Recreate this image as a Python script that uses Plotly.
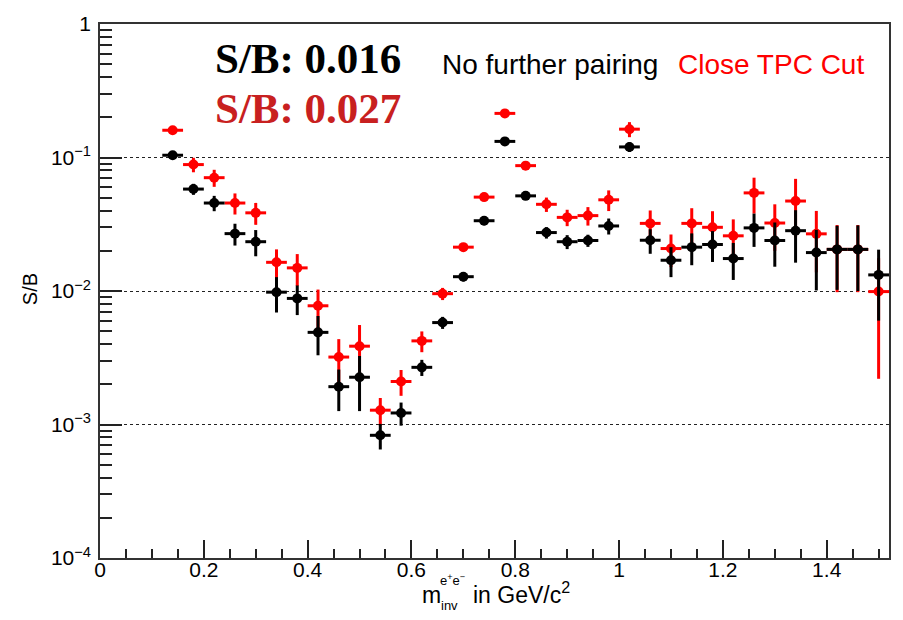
import plotly.graph_objects as go

# Invariant-mass bin centres (GeV/c^2), bin width 0.04
mass = [0.14, 0.18, 0.22, 0.26, 0.30, 0.34, 0.38, 0.42, 0.46, 0.50,
        0.54, 0.58, 0.62, 0.66, 0.70, 0.74, 0.78, 0.82, 0.86, 0.90,
        0.94, 0.98, 1.02, 1.06, 1.10, 1.14, 1.18, 1.22, 1.26, 1.30,
        1.34, 1.38, 1.42, 1.46, 1.50]
half_bin = 0.02

# S/B without further pairing
sb_nopair = [0.104, 0.058, 0.0456, 0.0269, 0.0234, 0.0098, 0.0088, 0.0049, 0.00192, 0.00226,
             0.00083, 0.00122, 0.00268, 0.0058, 0.0128, 0.0336, 0.132, 0.0516, 0.0274, 0.0234,
             0.0239, 0.0307, 0.120, 0.0240, 0.0170, 0.0213, 0.0223, 0.0175, 0.0297, 0.0239,
             0.0283, 0.0194, 0.0205, 0.0205, 0.0132]
err_nopair = [0.004, 0.0055, 0.006, 0.005, 0.0052, 0.0029, 0.0022, 0.0016, 0.00066, 0.001,
              0.00018, 0.00024, 0.00037, 0.0006, 0.001, 0.0025, 0.008, 0.003, 0.0027, 0.0028,
              0.0025, 0.0042, 0.01, 0.005, 0.0043, 0.0057, 0.0058, 0.0054, 0.0083, 0.0087,
              0.012, 0.0093, 0.0103, 0.0105, 0.0072]

# S/B with close TPC cut
sb_tpc = [0.160, 0.0885, 0.0706, 0.0456, 0.0385, 0.0164, 0.0149, 0.00775, 0.0032, 0.00386,
          0.00128, 0.0021, 0.00423, 0.00955, 0.0213, 0.0505, 0.214, 0.0869, 0.0446, 0.0356,
          0.0367, 0.0482, 0.163, 0.0321, 0.0208, 0.0321, 0.0300, 0.0259, 0.0543, 0.0323,
          0.0472, 0.0268, 0.0205, 0.0205, 0.0099]
err_tpc = [0.006, 0.011, 0.0103, 0.0082, 0.0072, 0.0041, 0.004, 0.0025, 0.00116, 0.0017,
           0.0003, 0.00046, 0.00075, 0.001, 0.0015, 0.003, 0.01, 0.004, 0.0055, 0.005,
           0.0058, 0.0085, 0.021, 0.008, 0.0057, 0.0096, 0.0096, 0.0085, 0.0163, 0.0123,
           0.022, 0.013, 0.0107, 0.0107, 0.0077]

sb_total_nopair = "0.016"
sb_total_tpc = "0.027"

y_major = [1e-4, 1e-3, 1e-2, 1e-1, 1]
y_major_text = ["10<sup>\u22124</sup>", "10<sup>\u22123</sup>", "10<sup>\u22122</sup>",
                "10<sup>\u22121</sup>", "1"]
y_minor = [m * 10.0 ** e for e in (-4, -3, -2, -1) for m in range(2, 10)]

W, H = 903, 620
L, R, T, B = 100, 12, 16, 62
pw, ph = W - L - R, H - T - B


def px(x):
    return (x - L) / pw


def py(y):
    return (H - B - y) / ph


fig = go.Figure()


def add_series(y, err, colour):
    fig.add_trace(go.Scatter(
        x=mass, y=y, mode="markers",
        marker=dict(color=colour, size=10, symbol="circle"),
        error_y=dict(type="data", array=err, visible=True, color=colour,
                     thickness=3, width=0),
        error_x=dict(type="constant", value=half_bin, visible=True, color=colour,
                     thickness=3, width=0),
        showlegend=False, cliponaxis=True,
    ))


add_series(sb_tpc, err_tpc, "#ff0000")
add_series(sb_nopair, err_nopair, "#000000")

tick_font = dict(family="Liberation Sans, Arial, sans-serif", size=21, color="black")

fig.update_xaxes(
    range=[0, 1.52], showline=True, linecolor="#333", linewidth=1.5, mirror=True,
    ticks="inside", ticklen=18, tickwidth=1.5, tickcolor="#222",
    tickvals=[0, 0.2, 0.4, 0.6, 0.8, 1.0, 1.2, 1.4],
    ticktext=["0", "0.2", "0.4", "0.6", "0.8", "1", "1.2", "1.4"],
    minor=dict(ticks="inside", ticklen=9, tickwidth=1.5, tickcolor="#222",
               dtick=0.05, tick0=0, showgrid=False),
    showgrid=False, zeroline=False, tickfont=tick_font, ticklabelstandoff=-8,
)
fig.update_yaxes(
    type="log", range=[-4, 0], showline=True, linecolor="#333", linewidth=1.5, mirror=True,
    ticks="inside", ticklen=22, tickwidth=1.5, tickcolor="#222",
    tickvals=y_major, ticktext=y_major_text,
    minor=dict(ticks="inside", ticklen=12, tickwidth=1.5, tickcolor="#222",
               tickmode="array", tickvals=y_minor, showgrid=False),
    showgrid=True, gridcolor="#222", griddash="dot", gridwidth=1,
    zeroline=False, tickfont=tick_font, ticklabelstandoff=3,
)

ann = []
# y-axis title
ann.append(dict(text="S/B", xref="paper", yref="paper", x=px(30), y=py(285),
                textangle=-90, showarrow=False, xanchor="center", yanchor="middle",
                font=dict(family="Liberation Sans, Arial, sans-serif", size=20, color="black")))
# x-axis title pieces
title_font = dict(family="Liberation Sans, Arial, sans-serif", size=23, color="black")
ann.append(dict(text="m", xref="paper", yref="paper", x=px(421), y=py(596),
                showarrow=False, xanchor="left", yanchor="middle", font=title_font))
ann.append(dict(text="e<sup>+</sup>e<sup>\u2212</sup>", xref="paper", yref="paper",
                x=px(439), y=py(580), showarrow=False, xanchor="left", yanchor="middle",
                font=dict(family="Liberation Sans, Arial, sans-serif", size=13, color="black")))
ann.append(dict(text="inv", xref="paper", yref="paper", x=px(440), y=py(606),
                showarrow=False, xanchor="left", yanchor="middle",
                font=dict(family="Liberation Sans, Arial, sans-serif", size=13, color="black")))
ann.append(dict(text="in GeV/c<sup>2</sup>", xref="paper", yref="paper", x=px(472), y=py(594),
                showarrow=False, xanchor="left", yanchor="middle", font=title_font))
# integrated S/B values
serif_bold = "Liberation Serif, Times New Roman, serif"
ann.append(dict(text="<b>S/B: " + sb_total_nopair + "</b>", xref="paper", yref="paper",
                x=px(213), y=py(51), showarrow=False, xanchor="left", yanchor="middle",
                font=dict(family=serif_bold, size=43, color="black")))
ann.append(dict(text="<b>S/B: " + sb_total_tpc + "</b>", xref="paper", yref="paper",
                x=px(213), y=py(102), showarrow=False, xanchor="left", yanchor="middle",
                font=dict(family=serif_bold, size=43, color="#c82020")))
# series labels
ann.append(dict(text="No further pairing", xref="paper", yref="paper",
                x=px(441), y=py(57), showarrow=False, xanchor="left", yanchor="middle",
                font=dict(family="Liberation Sans, Arial, sans-serif", size=28, color="black")))
ann.append(dict(text="Close TPC Cut", xref="paper", yref="paper",
                x=px(677), y=py(57), showarrow=False, xanchor="left", yanchor="middle",
                font=dict(family="Liberation Sans, Arial, sans-serif", size=28, color="#ff0000")))

fig.update_layout(
    width=W, height=H, margin=dict(l=L, r=R, t=T, b=B),
    paper_bgcolor="white", plot_bgcolor="white",
    annotations=ann, showlegend=False,
)

fig.write_html("out.html")
